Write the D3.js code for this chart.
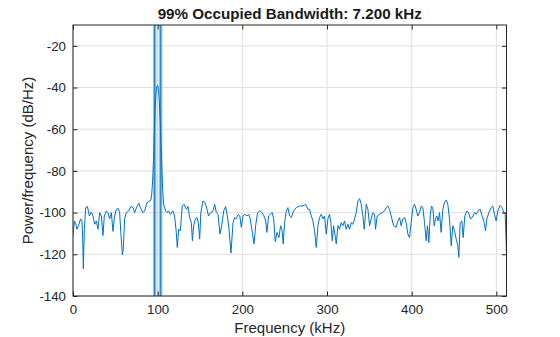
<!DOCTYPE html>
<html>
<head>
<meta charset="utf-8">
<script src="https://cdn.jsdelivr.net/npm/d3@7"></script>
<style>
  html, body { margin: 0; padding: 0; background: #fff; }
  svg { display: block; font-family: "Liberation Sans", Arial, Helvetica, sans-serif; }
</style>
</head>
<body>
<svg id="chart" width="560" height="337"></svg>
<script>
// Power spectral density estimate (frequency in kHz, level in dB/Hz)
const freqKHz = [
  0, 1.6, 3, 4.7, 6.7, 9, 10.6, 11.4, 12.2, 13.4, 15, 17, 19.3, 21.6, 23.6, 25.6, 27.6, 29.5,
  31.5, 33.5, 35.4, 37, 39.4, 41.3, 43.3, 45.3, 47.2, 49.2, 51.2, 53.5, 55.1, 56.7, 58.3, 59.4,
  61, 63, 65.7, 68.5, 70.9, 72.8, 75.6, 78, 79.5, 82.7, 84.6, 87.4, 90.6, 92, 93, 94, 95, 96,
  97, 98, 99, 100, 101, 102, 103, 104, 105, 106, 107, 109.4, 111, 113, 115, 118, 120, 122,
  123.2, 124.8, 126.8, 129, 131, 134, 135.8, 137.8, 139.8, 141, 142.5, 144.5, 146.5, 148,
  149.6, 151, 153.5, 156, 158.3, 160, 162.6, 165.4, 167.3, 169.3, 171.3, 173.6, 175.6, 178,
  180.3, 182.3, 184.3, 186.6, 189, 191, 193, 195, 197, 198.8, 200.8, 203, 205.5, 207.5, 209.4,
  211.8, 213.8, 215.7, 218, 220.5, 223, 225.6, 227.6, 229, 231, 233, 235.3, 237, 238.9, 240.9,
  243.2, 245.2, 246.8, 248.3, 249.9, 251.9, 253.8, 255.8, 257.8, 260.5, 263.7, 267.6, 271.6,
  274.7, 277.5, 279.4, 281.4, 283.4, 285.3, 287.3, 289.3, 291.2, 293.2, 295.2, 297.1, 299.1,
  301.1, 303, 304.6, 306.2, 307.8, 309.3, 310.9, 312.9, 314.8, 316.8, 318.8, 320.7, 322.7,
  324.7, 326.6, 328.6, 330.6, 332.6, 334.5, 336.5, 338.5, 340.4, 342.4, 344, 346.3, 348.3,
  350.3, 352.2, 354.2, 356.2, 357.3, 359.3, 362.1, 365.2, 368, 369.9, 371.9, 373.9, 375.8,
  378.6, 381.7, 383.7, 385.7, 387.6, 389.6, 391.6, 393.5, 395.5, 397.5, 399.4, 401.4, 403.4,
  405.3, 407.3, 409.3, 411.3, 413.2, 415.2, 417.1, 418.7, 420.3, 421.9, 423.4, 425, 426.6,
  428.2, 429.7, 431.3, 432.9, 434.8, 436.8, 438.8, 440.8, 442.7, 444.7, 446.7, 448.6, 450.6,
  452.6, 454.5, 455.7, 457.3, 459.3, 460.8, 462.8, 465.2, 467.1, 469.5, 471.5, 474.2, 476.2,
  478.5, 480.9, 483.2, 485.6, 487.2, 488.8, 491.1, 493.9, 495.8, 497.8, 499.8, 501.7, 504.5,
  506.8, 508.8, 510.4, 512
];
const psdDb = [
  -111, -104, -105, -108, -106, -103, -104, -112, -127, -108, -97.6, -97, -101.6, -99.7, -101.6, -105.6, -104, -108,
  -100, -101.6, -111, -101.6, -99.2, -100, -103, -100, -109, -101.6, -98.4, -98, -100, -111, -120.3, -117.5,
  -103, -100, -99.2, -97, -97.6, -100, -97, -95.5, -97.6, -100, -99.2, -95.2, -94.4, -94, -91, -85, -75, -62,
  -51, -43, -39.5, -39, -41, -47, -56, -67, -79, -90, -96, -99.2, -100, -99.2, -100.8, -99.2, -101.6, -109.5,
  -116.7, -108, -108.7, -96.8, -96, -98.4, -97, -102.4, -104.8, -113.5, -106.3, -103, -102.4, -104.8,
  -112.7, -100, -94.4, -95.2, -98.4, -101.6, -100, -99.2, -96, -100, -100.8, -110.3, -106.3, -99.2,
  -97.1, -101.6, -108, -119.4, -104.8, -102.4, -103, -100.8, -101.6, -107, -101.6, -100.8, -101.6, -100.8, -103,
  -109.5, -115, -106.3, -100, -99.2, -100, -101.6, -104, -109.5, -101.6, -100.8, -100, -103, -114, -109.5,
  -112, -106.3, -108, -115, -104.8, -99.2, -97.6, -101.6, -102.4, -99.2, -97.6, -96.8, -96.8,
  -96, -98.4, -98.4, -101.6, -104, -108.7, -116.7, -106.3, -102.4, -100.8, -103, -101.6, -110.3,
  -103, -100.8, -104.8, -113.5, -106.3, -110.3, -115, -106.3, -108, -104.8, -106.3, -104, -108,
  -105.6, -108, -104.8, -105.6, -103, -100, -94.4, -93.3, -96, -101.6, -108, -96, -98.4,
  -106.3, -103, -100, -100.8, -108, -101.6, -100.8, -100, -99.2, -97.6, -96.8, -98.4, -101.6,
  -106.3, -107, -104, -102.4, -106.3, -103, -102.4, -104.8, -110.3, -112, -104.8, -97.6, -96,
  -98.4, -101.6, -100, -96.8, -97.6, -104.8, -113.5, -106.3, -114.3, -101.6, -96.8, -97.6, -106.3,
  -103, -101.6, -104, -100, -109.5, -98.4, -95.2, -94, -96, -103, -115.9, -106.3, -108.7,
  -112.7, -115.9, -121.4, -104.8, -104, -112, -101.6, -99.2, -100, -103, -102.4, -100, -100.8,
  -99.2, -98.4, -101.6, -104.8, -108.7, -103, -100, -97.6, -96.8, -100.8, -104, -99.2, -96.5,
  -97.6, -100, -100, -120
];

// Occupied band edges (kHz)
const bandLoKHz = 96.4;
const bandHiKHz = 103.6;
const bandwidthKHz = 7.2;

const xTicks = [0, 100, 200, 300, 400, 500];
const yTicks = [-140, -120, -100, -80, -60, -40, -20];

const margin = { left: 73, right: 53.5, top: 25, bottom: 41 };
const W = 560, H = 337;
const iw = W - margin.left - margin.right;
const ih = H - margin.top - margin.bottom;

const svg = d3.select("#chart");
const g = svg.append("g").attr("transform", `translate(${margin.left},${margin.top})`);

const x = d3.scaleLinear().domain([0, 512]).range([0, iw]);
const y = d3.scaleLinear().domain([-140, -10]).range([ih, 0]);

const axisColor = "#262626";
const gridColor = "#dfdfdf";
const lineColor = "#0072bd";

// grid
g.append("g").selectAll("line").data(xTicks).join("line")
  .attr("x1", d => x(d)).attr("x2", d => x(d))
  .attr("y1", 0).attr("y2", ih)
  .attr("stroke", gridColor).attr("stroke-width", 1);
g.append("g").selectAll("line").data(yTicks).join("line")
  .attr("x1", 0).attr("x2", iw)
  .attr("y1", d => y(d)).attr("y2", d => y(d))
  .attr("stroke", gridColor).attr("stroke-width", 1);

const clip = svg.append("clipPath").attr("id", "plotclip");
clip.append("rect").attr("width", iw).attr("height", ih);
const plot = g.append("g").attr("clip-path", "url(#plotclip)");

// occupied band shading and edges
plot.append("rect")
  .attr("x", x(bandLoKHz)).attr("width", x(bandHiKHz) - x(bandLoKHz))
  .attr("y", 0).attr("height", ih)
  .attr("fill", "#0072bd").attr("fill-opacity", 0.08);
plot.append("g").selectAll("line").data([bandLoKHz, bandHiKHz]).join("line")
  .attr("x1", d => x(d)).attr("x2", d => x(d))
  .attr("y1", 0).attr("y2", ih)
  .attr("stroke", "#8dbde6").attr("stroke-width", 3.2);
plot.append("g").selectAll("line").data([bandLoKHz, bandHiKHz]).join("line")
  .attr("x1", d => x(d)).attr("x2", d => x(d))
  .attr("y1", 0).attr("y2", ih)
  .attr("stroke", lineColor).attr("stroke-width", 0.8);

// PSD trace
const pts = freqKHz.map((f, i) => [f, psdDb[i]]);
plot.append("path")
  .datum(pts)
  .attr("fill", "none")
  .attr("stroke", lineColor)
  .attr("stroke-width", 1)
  .attr("stroke-linejoin", "round")
  .attr("d", d3.line().x(d => x(d[0])).y(d => y(d[1])));

// axes box with inward ticks on all sides
const tickLen = 4.5;
const fontSize = 13.3;
const plain = d => String(d);
const xb = g.append("g").attr("transform", `translate(0,${ih})`)
  .call(d3.axisBottom(x).tickValues(xTicks).tickSizeInner(-tickLen).tickSizeOuter(0).tickPadding(9).tickFormat(plain));
const xt = g.append("g")
  .call(d3.axisTop(x).tickValues(xTicks).tickSizeInner(-tickLen).tickSizeOuter(0).tickFormat(""));
const yl = g.append("g")
  .call(d3.axisLeft(y).tickValues(yTicks).tickSizeInner(-tickLen).tickSizeOuter(0).tickPadding(7).tickFormat(plain));
const yr = g.append("g").attr("transform", `translate(${iw},0)`)
  .call(d3.axisRight(y).tickValues(yTicks).tickSizeInner(-tickLen).tickSizeOuter(0).tickFormat(""));
[xb, xt, yl, yr].forEach(a => {
  a.select(".domain").remove();
  a.selectAll(".tick line").attr("stroke", axisColor);
  a.selectAll("text").attr("fill", axisColor).style("font-size", fontSize + "px")
    .style("font-family", "'Liberation Sans', Arial, sans-serif");
});
g.append("rect").attr("width", iw).attr("height", ih)
  .attr("fill", "none").attr("stroke", axisColor).attr("stroke-width", 1);

// labels
svg.append("text")
  .attr("x", margin.left + iw / 2).attr("y", 19)
  .attr("text-anchor", "middle")
  .attr("fill", "#1a1a1a")
  .style("font-size", "15.2px").style("font-weight", "bold")
  .text(`99% Occupied Bandwidth: ${bandwidthKHz.toFixed(3)} kHz`);
svg.append("text")
  .attr("x", margin.left + iw / 2).attr("y", 333)
  .attr("text-anchor", "middle")
  .attr("fill", axisColor)
  .style("font-size", "15px")
  .text("Frequency (kHz)");
svg.append("text")
  .attr("transform", `translate(33,${margin.top + ih / 2}) rotate(-90)`)
  .attr("text-anchor", "middle")
  .attr("fill", axisColor)
  .style("font-size", "15px")
  .text("Power/frequency (dB/Hz)");
</script>
</body>
</html>
